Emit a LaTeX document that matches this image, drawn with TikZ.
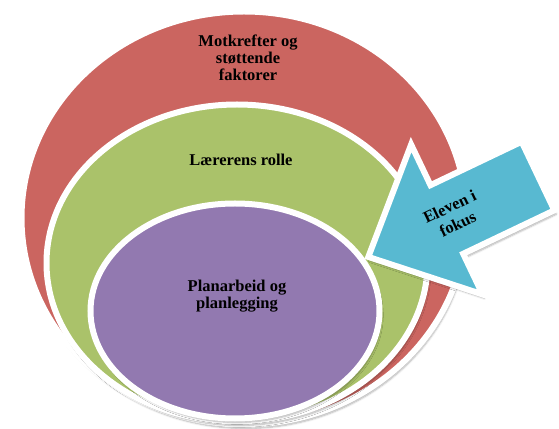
\documentclass[tikz,border=0pt]{standalone}
\usepackage{fontspec}
\setmainfont{Liberation Serif}
\usetikzlibrary{shapes.geometric,positioning,shadows.blur}

\definecolor{ringred}{RGB}{203,101,96}
\definecolor{ringgreen}{RGB}{170,194,106}
\definecolor{ringpurple}{RGB}{146,121,176}
\definecolor{focuscyan}{RGB}{88,185,209}

\begin{document}
\begin{tikzpicture}[
      x=1pt, y=1pt,
      ring/.style={
          ellipse,
          draw=white,
          line width=6pt,
          blur shadow={shadow xshift=2pt, shadow yshift=-4pt, shadow blur steps=6, shadow opacity=30}
      },
      ringlabel/.style={
          align=center,
          text=black,
          font=\fontsize{16.5}{16.7}\selectfont\bfseries
      },
      focusarrow/.style={
          draw=white,
          fill=focuscyan,
          line width=6pt,
          line join=miter,
          blur shadow={shadow xshift=2pt, shadow yshift=-4pt, shadow blur steps=6, shadow opacity=30}
      }
  ]
      \useasboundingbox (0,0) rectangle (559,428);

      % Rings
      \node (outer) [ring, fill=ringred, minimum width=445pt, minimum height=413pt] at (244,210) {};
      \node (middle) [ring, fill=ringgreen, minimum width=381pt, minimum height=317pt] at (237,165) {};
      \node (inner) [ring, fill=ringpurple, minimum width=289pt, minimum height=215pt] at (235,117) {};

      % Ring labels
      \node (outertext) [ringlabel, below=23pt of outer.north, xshift=4pt] {Motkrefter og\\støttende\\faktorer};
      \node (middletext) [ringlabel, below=49pt of middle.north, xshift=4pt] {Lærerens rolle};
      \node (innertext) [ringlabel, below=76pt of inner.north, xshift=2pt] {Planarbeid og\\planlegging};

      % Arrow pointing into the rings
      \begin{scope}[shift={(538,252)}, rotate=25.5]
          \draw [focusarrow] (0,38) -- (-101,38) -- (-101,83) -- (-188,0)
              -- (-101,-83) -- (-101,-38) -- (0,-38) -- cycle;
          \node (focus) [ringlabel, rotate=25.5, font=\fontsize{16.5}{19}\selectfont\bfseries] at (-93,1) {Eleven i\\fokus};
      \end{scope}
  \end{tikzpicture}
\end{document}
